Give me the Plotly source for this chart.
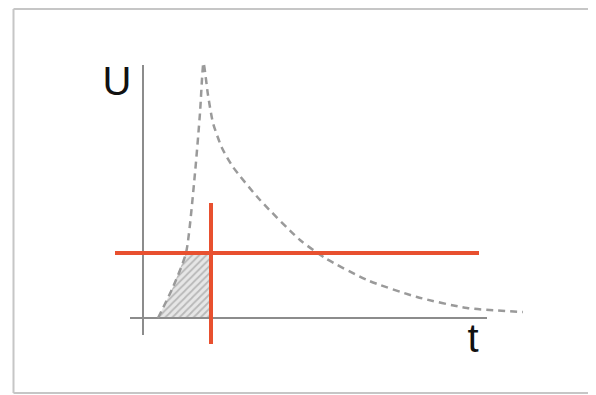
import plotly.graph_objects as go

# Data (diagram units: t horizontal, U vertical)
rise_t = [1.5, 3.0, 4.3, 5.2, 5.7, 6.05]
rise_u = [0.0, 3.1, 6.5, 14.5, 20.5, 25.5]
decay_t = [6.05, 6.5, 7.0, 7.9, 9.0, 11.7, 15.7, 18.2, 22.4, 27.4, 32.4, 38.0]
decay_u = [25.5, 22.3, 19.5, 17.0, 15.1, 11.8, 7.8, 6.0, 3.8, 2.1, 1.0, 0.6]
hatch_t = [1.5, 3.0, 4.3, 6.8, 6.8, 1.5]
hatch_u = [0.0, 3.1, 6.5, 6.5, 0.0, 0.0]
level_t = [-2.8, 33.6]
level_u = [6.5, 6.5]
cut_t = [6.8, 6.8]
cut_u = [11.5, -2.6]
taxis_t = [-1.3, 34.4]
taxis_u = [0, 0]
uaxis_t = [0, 0]
uaxis_u = [25.3, -1.7]
labels = ["U", "t"]
label_t = [-2.6, 33.0]
label_u = [23.3, -2.4]

fig = go.Figure()
fig.add_trace(go.Scatter(x=hatch_t, y=hatch_u, mode="lines", fill="toself",
                         line=dict(width=0), fillcolor="rgba(0,0,0,0)",
                         fillpattern=dict(shape="/", fgcolor="#8a8a8a", bgcolor="#e6e6e6",
                                          size=5, solidity=0.35),
                         hoverinfo="skip"))
fig.add_trace(go.Scatter(x=uaxis_t, y=uaxis_u, mode="lines",
                         line=dict(color="#8c8c8c", width=2)))
fig.add_trace(go.Scatter(x=taxis_t, y=taxis_u, mode="lines",
                         line=dict(color="#8c8c8c", width=2)))
fig.add_trace(go.Scatter(x=rise_t + decay_t[1:], y=rise_u + decay_u[1:], mode="lines",
                         line=dict(color="#9a9a9a", width=2.5, dash="7px,5px", shape="spline", smoothing=0.6)))
fig.add_trace(go.Scatter(x=level_t, y=level_u, mode="lines",
                         line=dict(color="#e8502f", width=4)))
fig.add_trace(go.Scatter(x=cut_t, y=cut_u, mode="lines",
                         line=dict(color="#e8502f", width=4)))
fig.add_trace(go.Scatter(x=label_t, y=label_u, mode="text", text=labels,
                         textfont=dict(family="Liberation Sans, Arial", size=40, color="#111111")))

# frame (open on the right, as in the reference); figure sized to fit the page's 8px body margin
frame = dict(color="#c6c6c6", width=2)
fig.add_shape(type="line", xref="paper", yref="paper", x0=5.5/588, x1=5.5/588, y0=2/387, y1=1 - 1/387, line=frame)
fig.add_shape(type="line", xref="paper", yref="paper", x0=5.5/588, x1=1.0, y0=1 - 1/387, y1=1 - 1/387, line=frame)
fig.add_shape(type="line", xref="paper", yref="paper", x0=5.5/588, x1=1.0, y0=2/387, y1=2/387, line=frame)

fig.update_layout(
    width=588, height=387, margin=dict(l=0, r=0, t=0, b=0),
    paper_bgcolor="white", plot_bgcolor="white", showlegend=False,
    xaxis=dict(range=[-13.5, 45.3], visible=False),
    yaxis=dict(range=[-7.7, 31.0], visible=False),
)
fig.write_html("out.html")
